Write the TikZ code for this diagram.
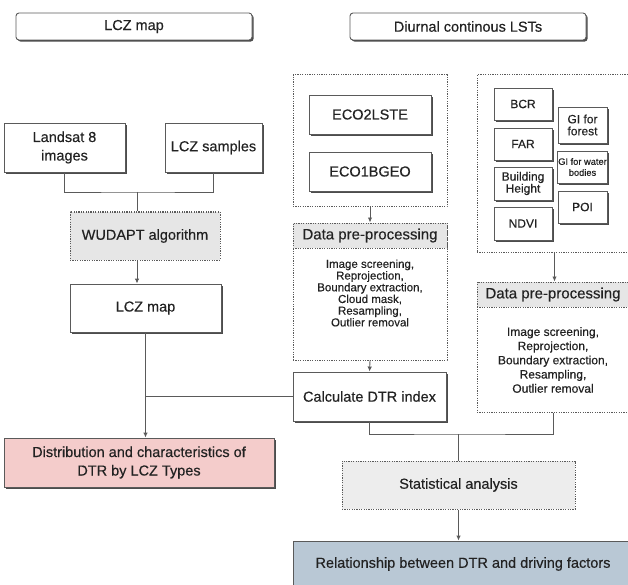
\documentclass[tikz,border=0pt]{standalone}
\usepackage{fontspec}
\setmainfont{Liberation Sans}[FakeBold=0.35]
\usetikzlibrary{arrows.meta,shadows,positioning}

\definecolor{textGray}{HTML}{222222}
\definecolor{lineGray}{HTML}{5A5A5A}
\definecolor{distRed}{HTML}{F4CCCB}
\definecolor{relBlue}{HTML}{B9C8D5}
\definecolor{bandGray}{HTML}{E6E6E6}

\begin{document}
\begin{tikzpicture}[x=1pt,y=-1pt,
  every node/.style={font=\fontsize{14.5}{18.5}\selectfont, text=textGray, inner sep=2pt, align=center},
  plainbox/.style={draw=lineGray, line width=0.9pt, fill=white,
    general shadow={fill=black!70, shadow xshift=1.6pt, shadow yshift=-1.6pt}},
  headbox/.style={plainbox, rounded corners=3pt},
  dotbox/.style={draw=lineGray, line width=1pt, dash pattern=on 1.2pt off 1.2pt, fill=#1},
  smallbox/.style={plainbox, font=\fontsize{12}{12}\selectfont, inner sep=1pt},
  bandtext/.style={font=\fontsize{15}{16}\selectfont},
  arr/.style={draw=lineGray, line width=0.9pt, -{Latex[length=5pt,width=4.5pt]}},
  link/.style={draw=lineGray, line width=0.9pt},
]
  \useasboundingbox (0,0) rectangle (628,585);
  \clip (0,0) rectangle (628,585);

  % Titles
  \node[headbox, minimum width=236pt, minimum height=27pt] (lczHead) at (134,26.5) {LCZ map};
  \node[headbox, minimum width=236pt, minimum height=27pt] (lstHead) at (468,26.5) {Diurnal continous LSTs};

  % LCZ branch
  \node[plainbox, minimum width=121pt, minimum height=49pt] (landsat) at (64.5,147.5) {Landsat 8\\images};
  \node[plainbox, minimum width=97pt, minimum height=49pt] (samples) at (213.5,147.5) {LCZ samples};
  \node[dotbox=bandGray, minimum width=150pt, minimum height=48pt] (wudapt) at (145,236) {WUDAPT algorithm};
  \node[plainbox, minimum width=151pt, minimum height=48pt] (lczMap) at (145.5,308) {LCZ map};
  \node[plainbox, fill=distRed, minimum width=270pt, minimum height=49pt] (distr) at (139,462.5) {Distribution and characteristics of\\DTR by LCZ Types};

  % LST branch
  \node[dotbox=white, minimum width=154pt, minimum height=132pt] (ecoFrame) at (370,141) {};
  \node[plainbox, minimum width=122pt, minimum height=39pt] (eco2) at (370,114.5) {ECO2LSTE};
  \node[plainbox, minimum width=122pt, minimum height=39pt] (eco1) at (370,171.5) {ECO1BGEO};
  \node[dotbox=white, minimum width=154pt, minimum height=137pt] (preL) at (370,291.5) {};
  \node[dotbox=bandGray, bandtext, minimum width=154pt, minimum height=25pt, anchor=north] (preLHead) at (preL.north) {Data pre-processing};
  \node[font=\fontsize{11.5}{11.7}\selectfont] (preLList) at (370,293) {Image screening,\\Reprojection,\\Boundary extraction,\\Cloud mask,\\Resampling,\\Outlier removal};
  \node[plainbox, minimum width=153pt, minimum height=49pt] (calc) at (369.5,396.5) {Calculate DTR index};

  % Driving factors
  \node[dotbox=white, minimum width=155pt, minimum height=177pt] (factFrame) at (554.5,163.5) {};
  \node[smallbox, minimum width=58pt, minimum height=32pt] (bcr) at (523,104) {BCR};
  \node[smallbox, minimum width=58pt, minimum height=32pt] (far) at (523,144) {FAR};
  \node[smallbox, minimum width=58pt, minimum height=33pt] (bldHeight) at (523,183.5) {Building\\Height};
  \node[smallbox, minimum width=58pt, minimum height=33pt] (ndvi) at (523,223.5) {NDVI};
  \node[smallbox, minimum width=49pt, minimum height=36pt] (giForest) at (582.5,125) {GI for\\forest};
  \node[smallbox, minimum width=49pt, minimum height=32pt, font=\fontsize{9.3}{11}\selectfont] (giWater) at (582.5,167) {GI for water\\bodies};
  \node[smallbox, minimum width=49pt, minimum height=32pt] (poi) at (582.5,207) {POI};
  \node[dotbox=white, minimum width=152pt, minimum height=130pt] (preR) at (553,347) {};
  \node[dotbox=bandGray, bandtext, minimum width=152pt, minimum height=25pt, anchor=north] (preRHead) at (preR.north) {Data pre-processing};
  \node[font=\fontsize{12}{14.2}\selectfont] (preRList) at (553,360) {Image screening,\\Reprojection,\\Boundary extraction,\\Resampling,\\Outlier removal};

  % Analysis
  \node[dotbox=gray!14, minimum width=233pt, minimum height=48pt] (stat) at (458.5,485) {Statistical analysis};
  \node[plainbox, fill=relBlue, minimum width=340pt, minimum height=46pt] (rel) at (463,564) {Relationship between DTR and driving factors};

  % Connectors
  \coordinate (lczJoin) at (137,192);
  \coordinate (statJoin) at (458,434);
  \draw[link] (landsat.south) |- (lczJoin) -| (samples.south);
  \draw[link] (lczJoin) -- (lczJoin |- wudapt.north);
  \draw[arr] (lczJoin |- wudapt.south) -- (lczJoin |- lczMap.north);
  \draw[link] (lczMap.south) |- (calc.west);
  \draw[arr] (lczMap.south |- calc.west) -- (lczMap.south |- distr.north);
  \draw[arr] (ecoFrame.south) -- (preLHead.north);
  \draw[arr] (preL.south) -- (calc.north);
  \draw[arr] (factFrame.south) -- (factFrame.south |- preRHead.north);
  \draw[link] (calc.south) |- (statJoin) -| (preR.south);
  \draw[link] (statJoin) -- (statJoin |- stat.north);
  \draw[arr] (stat.south) -- (stat.south |- rel.north);
\end{tikzpicture}
\end{document}
